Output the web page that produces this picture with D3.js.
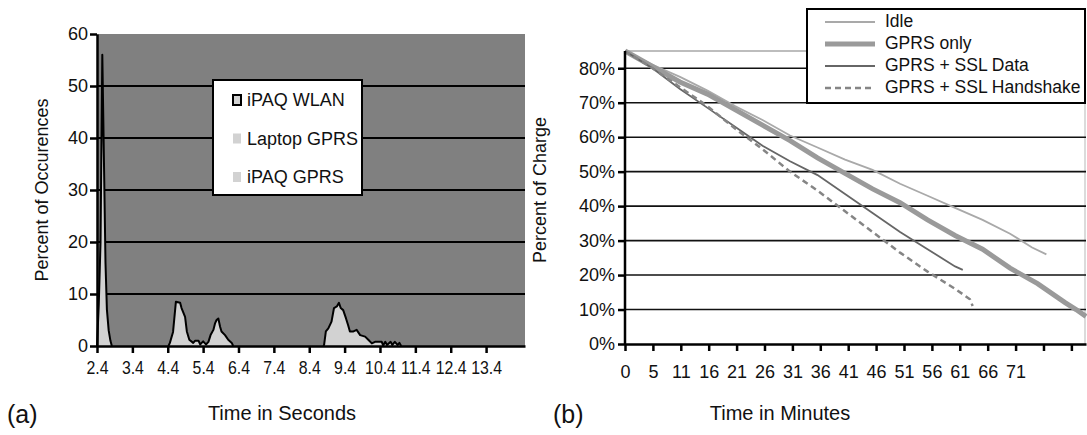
<!DOCTYPE html>
<html><head><meta charset="utf-8">
<script src="https://cdn.jsdelivr.net/npm/d3@7"></script>
<style>
body{margin:0;background:#fff}
svg text{font-family:"Liberation Sans",Arial,sans-serif;fill:#111}
</style>
</head><body>
<svg id="c" width="1087" height="435"></svg>
<script>
// ---------- Chart (a) data ----------
const aTickLabels = ["2.4","3.4","4.4","5.4","6.4","7.4","8.4","9.4","10.4","11.4","12.4","13.4"];
const aYTicks = [0,10,20,30,40,50,60];
const aLegend = ["iPAQ WLAN","Laptop GPRS","iPAQ GPRS"];
const wlanT = [2.40,2.45,2.50,2.55,2.60,2.64,2.68,2.73,2.78,2.82];
const wlanV = [0,   8,   20,  56,  34,  16,  7,   3,   1,   0];
const laptopT = [4.42,4.46,4.55,4.63,4.75,4.79,4.89,4.94,5.01,5.12,5.17,5.27,5.32,5.40,5.48,5.55,5.61,5.69,5.74,5.78,5.83,5.88,5.92,6.02,6.11,6.21,6.25];
const laptopV = [0,   0.6, 2.7, 8.5, 8.3, 7.3, 5.6, 2.8, 1.2, 0.6, 1.0, 1.0, 0.3, 0.9, 0.3, 0.8, 2.1, 3.1, 4.4, 5.0, 5.3, 3.7, 2.8, 2.1, 1.2, 0.6, 0];
const ipaqT = [8.80,8.82,8.87,8.94,9.03,9.10,9.18,9.24,9.29,9.36,9.44,9.50,9.55,9.65,9.74,9.84,9.98,10.07,10.17,10.26,10.45,10.49,10.55,10.60,10.70,10.75,10.82,10.90,10.95,11.00];
const ipaqV = [0,   0.2, 2.8, 3.4, 4.7, 7.3, 7.6, 8.3, 7.3, 6.9, 5.3, 4.0, 2.8, 2.8, 3.1, 2.1, 1.8, 1.2,  0.5,  0.8,  0.8,  0.1,  0.8,  0.2,  0.8,  0.2,  0.8,  0.2,  0.6,  0];

// ---------- Chart (b) data ----------
const bTickLabels = ["0","5","11","16","21","26","31","36","41","46","51","56","61","66","71","",""];
const bYTicks = [0,10,20,30,40,50,60,70,80];
const bLegend = ["Idle","GPRS only","GPRS + SSL Data","GPRS + SSL Handshake"];
const idleMin = [0,5,10,15,20,25,30,35,40,45,50,55,60,65,70,74,76.6];
const idlePct = [85,81,77.5,73.5,69,65,60.5,57,53.5,50.5,46.5,43,39.5,36,32,28,26];
const gprsMin = [0,5,10,15,20,25,30,35,40,45,50,55,60,65,70,75,80,82,83.8];
const gprsPct = [85,80.5,76,72.5,68,63.5,59,54,49.5,45,41,36,31.5,27.5,22,17.5,12,10,8];
const sslMin = [0,5,10,15,20,25,30,35,40,45,50,55,60,61.4];
const sslPct = [85,80,74,68.5,63,57.5,53,49,43.5,38,32.5,27.5,22.5,21.5];
const hsMin = [0,5,10,15,20,25,30,35,40,45,50,55,60,62.7,63.2];
const hsPct = [85,80,74.5,69,62.5,56.5,50,44.5,38.5,32.5,26.5,21,16,13,11];

const zip = (a,b)=>a.map((d,i)=>[d,b[i]]);
const svg = d3.select("#c");

// ================= Chart (a) =================
const xA = d3.scaleLinear().domain([2.4,14.5]).range([97,525]);
const yA = d3.scaleLinear().domain([0,60]).range([346,34]);
const gA = svg.append("g");
gA.append("rect").attr("x",xA(2.4)).attr("y",yA(60)).attr("width",xA(14.5)-xA(2.4)).attr("height",yA(0)-yA(60)).attr("fill","#808080");
gA.selectAll("line.grid").data(aYTicks.filter(d=>d>0&&d<60)).join("line")
  .attr("x1",xA(2.4)).attr("x2",xA(14.5)).attr("y1",d=>yA(d)).attr("y2",d=>yA(d))
  .attr("stroke","#000").attr("stroke-width",2);
const areaA = d3.area().x(d=>xA(d[0])).y0(yA(0)).y1(d=>yA(d[1]));
const lineA = d3.line().x(d=>xA(d[0])).y(d=>yA(d[1]));
[zip(laptopT,laptopV),zip(ipaqT,ipaqV),zip(wlanT,wlanV)].forEach(s=>{
  gA.append("path").attr("d",areaA(s)).attr("fill","#d2d2d2");
  gA.append("path").attr("d",lineA(s)).attr("fill","none").attr("stroke","#000").attr("stroke-width",2).attr("stroke-linejoin","round");
});
const axA = gA.append("g").attr("transform",`translate(0,${yA(0)})`)
  .call(d3.axisBottom(xA).tickValues(aTickLabels.map(Number)).tickFormat((d,i)=>aTickLabels[i]).tickSize(7).tickSizeOuter(0).tickPadding(8));
const ayA = gA.append("g").attr("transform",`translate(${xA(2.4)},0)`)
  .call(d3.axisLeft(yA).tickValues(aYTicks).tickSize(7).tickSizeOuter(0).tickPadding(2));
[axA,ayA].forEach(a=>{
  a.select(".domain").attr("stroke","#000").attr("stroke-width",2.5);
  a.selectAll(".tick line").attr("stroke","#000").attr("stroke-width",2.5);
  a.selectAll(".tick text").attr("font-size",18).attr("fill","#111").style("font-family","Liberation Sans, Arial, sans-serif");
});
axA.selectAll(".tick text").attr("transform","scale(0.88,1)");
// legend (a)
const lgA = gA.append("g");
lgA.append("rect").attr("x",213).attr("y",80).attr("width",149).attr("height",115).attr("fill","#fff").attr("stroke","#000").attr("stroke-width",2);
aLegend.forEach((t,i)=>{
  const yy = 100 + i*38.5;
  lgA.append("rect").attr("x",233).attr("y",yy-5).attr("width",8).attr("height",10)
    .attr("fill","#d2d2d2").attr("stroke",i===0?"#000":"none").attr("stroke-width",2);
  lgA.append("text").attr("x",247).attr("y",yy).attr("dy","0.35em").attr("font-size",18).text(t);
});
gA.append("text").attr("transform","translate(48,190) rotate(-90)").attr("text-anchor","middle").attr("font-size",18).text("Percent of Occurences");
gA.append("text").attr("x",282).attr("y",420).attr("text-anchor","middle").attr("font-size",20).text("Time in Seconds");
gA.append("text").attr("x",7).attr("y",423).attr("font-size",25).text("(a)");

// ================= Chart (b) =================
const bStep = 71/14;
const xB = d3.scaleLinear().domain([0,83.8]).range([625,1086]);
const yB = d3.scaleLinear().domain([0,85]).range([344,51]);
const gB = svg.append("g");
gB.append("line").attr("x1",xB(0)).attr("x2",xB(83.8)).attr("y1",yB(85)).attr("y2",yB(85)).attr("stroke","#bdbdbd").attr("stroke-width",2);
gB.append("line").attr("x1",xB(83.8)-1).attr("x2",xB(83.8)-1).attr("y1",yB(85)).attr("y2",yB(0)).attr("stroke","#cfcfcf").attr("stroke-width",1.5);
gB.selectAll("line.grid").data(bYTicks.filter(d=>d>0)).join("line")
  .attr("x1",xB(0)).attr("x2",xB(83.8)).attr("y1",d=>yB(d)).attr("y2",d=>yB(d))
  .attr("stroke","#111").attr("stroke-width",1.6);
const lineB = d3.line().x(d=>xB(d[0])).y(d=>yB(d[1]));
const styles = [
  {c:"#a9a9a9",w:1.8,dash:null},
  {c:"#9a9a9a",w:5,dash:null},
  {c:"#666",w:1.8,dash:null},
  {c:"#858585",w:2.5,dash:"6,4"}
];
const seriesB = [zip(idleMin,idlePct),zip(gprsMin,gprsPct),zip(sslMin,sslPct),zip(hsMin,hsPct)];
seriesB.forEach((s,i)=>{
  gB.append("path").attr("d",lineB(s)).attr("fill","none").attr("stroke",styles[i].c)
    .attr("stroke-width",styles[i].w).attr("stroke-dasharray",styles[i].dash);
});
const bTickVals = bTickLabels.map((d,i)=>i*bStep);
const axB = gB.append("g").attr("transform",`translate(0,${yB(0)})`)
  .call(d3.axisBottom(xB).tickValues(bTickVals).tickFormat((d,i)=>bTickLabels[i]).tickSize(7).tickSizeOuter(0).tickPadding(14));
const ayB = gB.append("g").attr("transform",`translate(${xB(0)},0)`)
  .call(d3.axisLeft(yB).tickValues(bYTicks).tickFormat(d=>d+"%").tickSize(7).tickSizeOuter(0).tickPadding(3));
ayB.select(".domain").attr("d",`M0,${yB(0)}V${yB(85)}`);
[axB,ayB].forEach(a=>{
  a.select(".domain").attr("stroke","#000").attr("stroke-width",2.5);
  a.selectAll(".tick line").attr("stroke","#000").attr("stroke-width",2.5);
  a.selectAll(".tick text").attr("font-size",18).attr("fill","#111").style("font-family","Liberation Sans, Arial, sans-serif");
});
// legend (b)
const lgB = gB.append("g");
lgB.append("rect").attr("x",807).attr("y",9).attr("width",278).attr("height",94).attr("fill","#fff").attr("stroke","#000").attr("stroke-width",2);
bLegend.forEach((t,i)=>{
  const yy = 21 + i*22;
  lgB.append("line").attr("x1",825).attr("x2",875).attr("y1",yy+1).attr("y2",yy+1)
    .attr("stroke",styles[i].c).attr("stroke-width",styles[i].w).attr("stroke-dasharray",styles[i].dash);
  lgB.append("text").attr("x",885).attr("y",yy).attr("dy","0.35em").attr("font-size",17.5).text(t);
});
gB.append("text").attr("transform","translate(546,190) rotate(-90)").attr("text-anchor","middle").attr("font-size",18).text("Percent of Charge");
gB.append("text").attr("x",780).attr("y",420).attr("text-anchor","middle").attr("font-size",20).text("Time in Minutes");
gB.append("text").attr("x",553).attr("y",423).attr("font-size",25).text("(b)");
</script>
</body></html>
